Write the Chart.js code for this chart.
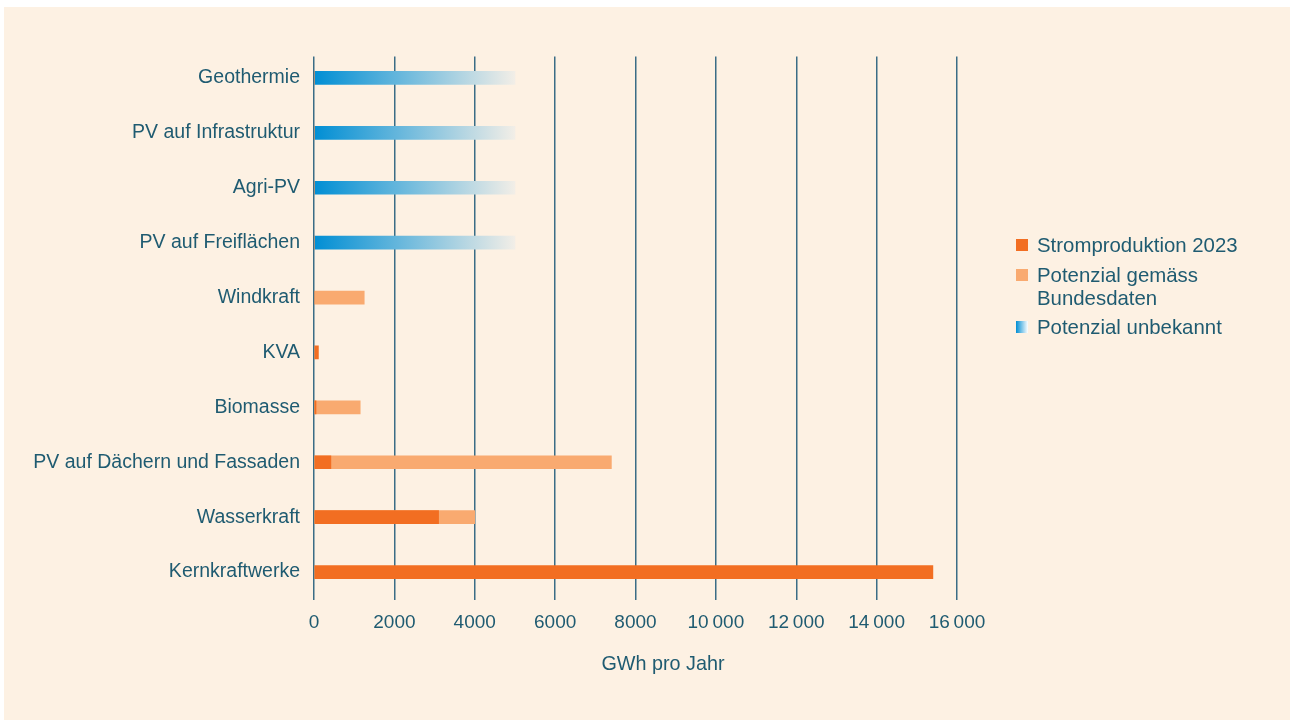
<!DOCTYPE html>
<html>
<head>
<meta charset="utf-8">
<script src="https://cdn.jsdelivr.net/npm/chart.js@4.4.1/dist/chart.umd.min.js"></script>
<style>
  html, body { margin: 0; padding: 0; background: #ffffff; }
  #panel { position: absolute; left: 4px; top: 7px; width: 1286px; height: 713px; background: #fdf1e3; }
  #wrap { position: absolute; left: 0; top: 0; width: 1297px; height: 724px; }
</style>
</head>
<body>
<div id="panel"></div>
<div id="wrap"><canvas id="c" width="1297" height="724"></canvas></div>
<script>
// ---- data ----
const categories = [
  'Geothermie', 'PV auf Infrastruktur', 'Agri-PV', 'PV auf Freiflächen', 'Windkraft',
  'KVA', 'Biomasse', 'PV auf Dächern und Fassaden', 'Wasserkraft', 'Kernkraftwerke'
];
const stromproduktion2023 = [0, 0, 0, 0, 0, 110, 50, 420, 3100, 15400];
const potenzialBund       = [0, 0, 0, 0, 1250, 0, 1150, 7400, 4000, 0];
const potenzialUnbekannt  = [5000, 5000, 5000, 5000, 0, 0, 0, 0, 0, 0];
const xTicks = [0, 2000, 4000, 6000, 8000, 10000, 12000, 14000, 16000];
const seriesNames = ['Stromproduktion 2023', ['Potenzial gemäss', 'Bundesdaten'], 'Potenzial unbekannt'];
const axisTitle = 'GWh pro Jahr';

// ---- styles ----
const PANEL = '#fdf1e3';
const TEXT = '#1f5b71';
const GRID = '#3a6d86';
const ORANGE = '#f26e22';
const LIGHT = '#f9aa70';
const BLUE = 'rgb(0,142,212)';
const FADE = 'rgb(242,238,231)';
const FONT = '"Liberation Sans", Arial, sans-serif';

function fmt(v) {
  if (v >= 10000) {
    const s = String(v);
    return s.slice(0, s.length - 3) + '\u2009' + s.slice(-3);
  }
  return String(v);
}

function blueGradient(context) {
  const chart = context.chart;
  if (!chart.chartArea || !chart.scales.x) return BLUE;
  const xs = chart.scales.x;
  const v = context.raw || 0;
  const x0 = xs.getPixelForValue(0);
  const x1 = xs.getPixelForValue(v > 0 ? v : 5000);
  const g = chart.ctx.createLinearGradient(x0, 0, x1, 0);
  g.addColorStop(0, BLUE);
  g.addColorStop(1, FADE);
  return g;
}

const gridTrimPlugin = {
  id: 'gridTrim',
  beforeDatasetsDraw(chart) {
    const a = chart.chartArea;
    const c = chart.ctx;
    c.save();
    c.fillStyle = PANEL;
    c.fillRect(a.left - 2, a.top - 1, a.right - a.left + 4, 7);
    c.restore();
  }
};

const legendPlugin = {
  id: 'customLegend',
  afterDraw(chart) {
    const c = chart.ctx;
    c.save();
    c.font = '20.4px ' + FONT;
    c.fillStyle = TEXT;
    c.textBaseline = 'middle';
    c.textAlign = 'left';
    const bx = 1016, tx = 1037, sz = 12;
    const items = [
      { y: 245, color: ORANGE, lines: [seriesNames[0]] },
      { y: 275, color: LIGHT, lines: seriesNames[1] },
      { y: 327, color: 'grad', lines: [seriesNames[2]] }
    ];
    items.forEach(it => {
      if (it.color === 'grad') {
        const g = c.createLinearGradient(bx, 0, bx + sz, 0);
        g.addColorStop(0, BLUE);
        g.addColorStop(1, '#ffffff');
        c.fillStyle = g;
      } else {
        c.fillStyle = it.color;
      }
      c.fillRect(bx, it.y - sz / 2, sz, sz);
      c.fillStyle = TEXT;
      it.lines.forEach((ln, i) => c.fillText(ln, tx, it.y + i * 23 + 1));
    });
    // axis title
    c.font = '19.8px ' + FONT;
    c.textAlign = 'center';
    c.fillText(axisTitle, 663, 665);
    c.restore();
  }
};

new Chart(document.getElementById('c'), {
  type: 'bar',
  data: {
    labels: categories,
    datasets: [
      { label: 'Stromproduktion 2023', data: stromproduktion2023, backgroundColor: ORANGE, grouped: false, barThickness: 13 },
      { label: 'Potenzial gemäss Bundesdaten', data: potenzialBund, backgroundColor: LIGHT, grouped: false, barThickness: 13 },
      { label: 'Potenzial unbekannt', data: potenzialUnbekannt, backgroundColor: blueGradient, grouped: false, barThickness: 13 }
    ]
  },
  options: {
    indexAxis: 'y',
    responsive: false,
    animation: false,
    layout: { padding: { left: 0, right: 340, top: 50.5, bottom: 84.5 } },
    plugins: { legend: { display: false }, tooltip: { enabled: false } },
    scales: {
      x: {
        min: 0, max: 16000,
        afterBuildTicks(scale) { scale.ticks = xTicks.map(v => ({ value: v })); },
        afterFit(scale) { scale.height = 40; },
        border: { display: false },
        grid: { color: GRID, lineWidth: 1.5, drawTicks: false },
        ticks: {
          color: TEXT, padding: 12, maxRotation: 0, autoSkip: false,
          font: { family: FONT, size: 19 },
          callback: v => fmt(v)
        }
      },
      y: {
        afterFit(scale) { scale.width = 314; },
        border: { display: false },
        grid: { display: false, drawTicks: false },
        ticks: { color: TEXT, padding: 14, font: { family: FONT, size: 19.5 } }
      }
    }
  },
  plugins: [gridTrimPlugin, legendPlugin]
});
</script>
</body>
</html>
